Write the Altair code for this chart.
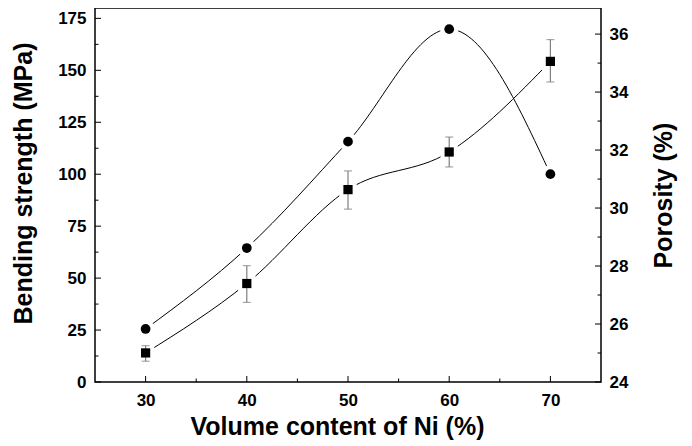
import altair as alt
import pandas as pd

# ---- data ----
ni = [30, 40, 50, 60, 70]
strength = [14.0, 47.4, 92.6, 110.7, 154.3]
strength_hi = [17.5, 56.0, 101.6, 117.9, 164.8]
strength_lo = [10.0, 38.3, 83.2, 103.5, 144.4]
porosity = [25.83, 28.62, 32.29, 36.17, 31.17]

x_major = [30, 40, 50, 60, 70]
x_minor = [35, 45, 55, 65]
left_major = [0, 25, 50, 75, 100, 125, 150, 175]
left_minor = [12.5, 37.5, 62.5, 87.5, 112.5, 137.5, 162.5]
right_major = [24, 26, 28, 30, 32, 34, 36]
right_minor = [25, 27, 29, 31, 33, 35]

W, H = 506, 374
FONT = "Liberation Sans"

df_s = pd.DataFrame({"ni": ni, "s": strength, "hi": strength_hi, "lo": strength_lo})
df_p = pd.DataFrame({"ni": ni, "p": porosity})

xs = alt.Scale(domain=[25, 75], nice=False, zero=False)
ls = alt.Scale(domain=[0, 180], nice=False, zero=False)
rs = alt.Scale(domain=[24, 36.9], nice=False, zero=False)

x_axis = alt.Axis(values=x_major, ticks=False, domain=False, grid=False,
                  labelPadding=10, title="Volume content of Ni (%)", titlePadding=6,
                  titleX=242, titleAlign="center")
l_axis = alt.Axis(values=left_major, ticks=False, domain=False, grid=False,
                  labelPadding=9, title="Bending strength (MPa)", titlePadding=21,
                  titleY=175, titleAlign="center")
r_axis = alt.Axis(values=right_major, ticks=False, domain=False, grid=False, orient="right",
                  labelPadding=8, title="Porosity (%)", titlePadding=24, titleAngle=270,
                  titleBaseline="top")

X = alt.X("ni:Q", scale=xs, axis=x_axis)
YL = alt.Y("s:Q", scale=ls, axis=l_axis)
YR = alt.Y("p:Q", scale=rs, axis=r_axis)

base_s = alt.Chart(df_s)
s_line = base_s.mark_line(color="black", strokeWidth=1, interpolate="monotone").encode(x=X, y=YL)
s_halo = base_s.mark_point(shape="square", filled=True, color="white", opacity=1, size=300).encode(x=X, y=YL)
s_err = base_s.mark_rule(color="#808080", strokeWidth=1.2).encode(
    x=X, y=alt.Y("lo:Q", scale=ls, axis=l_axis), y2="hi:Q")
s_cap_hi = base_s.mark_tick(orient="horizontal", color="#808080", size=8, thickness=1.2).encode(
    x=X, y=alt.Y("hi:Q", scale=ls, axis=l_axis))
s_cap_lo = base_s.mark_tick(orient="horizontal", color="#808080", size=8, thickness=1.2).encode(
    x=X, y=alt.Y("lo:Q", scale=ls, axis=l_axis))
s_pts = base_s.mark_point(shape="square", filled=True, color="black", opacity=1, size=85).encode(x=X, y=YL)

# ticks (inward, drawn from the tick value lists through the scales)
lt_major = alt.Chart(pd.DataFrame({"s": left_major})).mark_rule(color="black", strokeWidth=1).encode(
    y=YL, x=alt.value(0), x2=alt.value(6))
lt_minor = alt.Chart(pd.DataFrame({"s": left_minor})).mark_rule(color="black", strokeWidth=1).encode(
    y=YL, x=alt.value(0), x2=alt.value(3.5))
xt_major = alt.Chart(pd.DataFrame({"ni": x_major})).mark_rule(color="black", strokeWidth=1).encode(
    x=X, y=alt.value(H), y2=alt.value(H - 6))
xt_minor = alt.Chart(pd.DataFrame({"ni": x_minor})).mark_rule(color="black", strokeWidth=1).encode(
    x=X, y=alt.value(H), y2=alt.value(H - 3.5))

left = alt.layer(s_line, s_halo, s_err, s_cap_hi, s_cap_lo, s_pts, lt_major, lt_minor, xt_major, xt_minor)

base_p = alt.Chart(df_p)
p_line = base_p.mark_line(color="black", strokeWidth=1, interpolate="monotone").encode(x=X, y=YR)
p_halo = base_p.mark_point(shape="circle", filled=True, color="white", opacity=1, size=340).encode(x=X, y=YR)
p_pts = base_p.mark_point(shape="circle", filled=True, color="black", opacity=1, size=95).encode(x=X, y=YR)
rt_major = alt.Chart(pd.DataFrame({"p": right_major})).mark_rule(color="black", strokeWidth=1).encode(
    y=YR, x=alt.value(W), x2=alt.value(W - 6))
rt_minor = alt.Chart(pd.DataFrame({"p": right_minor})).mark_rule(color="black", strokeWidth=1).encode(
    y=YR, x=alt.value(W), x2=alt.value(W - 3.5))

right = alt.layer(p_line, p_halo, p_pts, rt_major, rt_minor)

chart = alt.layer(left, right).resolve_scale(y="independent").properties(
    width=W, height=H,
    background="white",
    autosize=alt.AutoSizeParams(type="none"),
    padding={"left": 87, "top": 0, "right": 83, "bottom": 63},
).configure_view(stroke="black", strokeWidth=1.5).configure_axis(
    labelFont=FONT, labelFontWeight="bold", labelFontSize=17, labelColor="black",
    titleFont=FONT, titleFontWeight="bold", titleFontSize=25, titleColor="black",
)

chart.save("out.html", embed_options={"renderer": "svg", "actions": False})
